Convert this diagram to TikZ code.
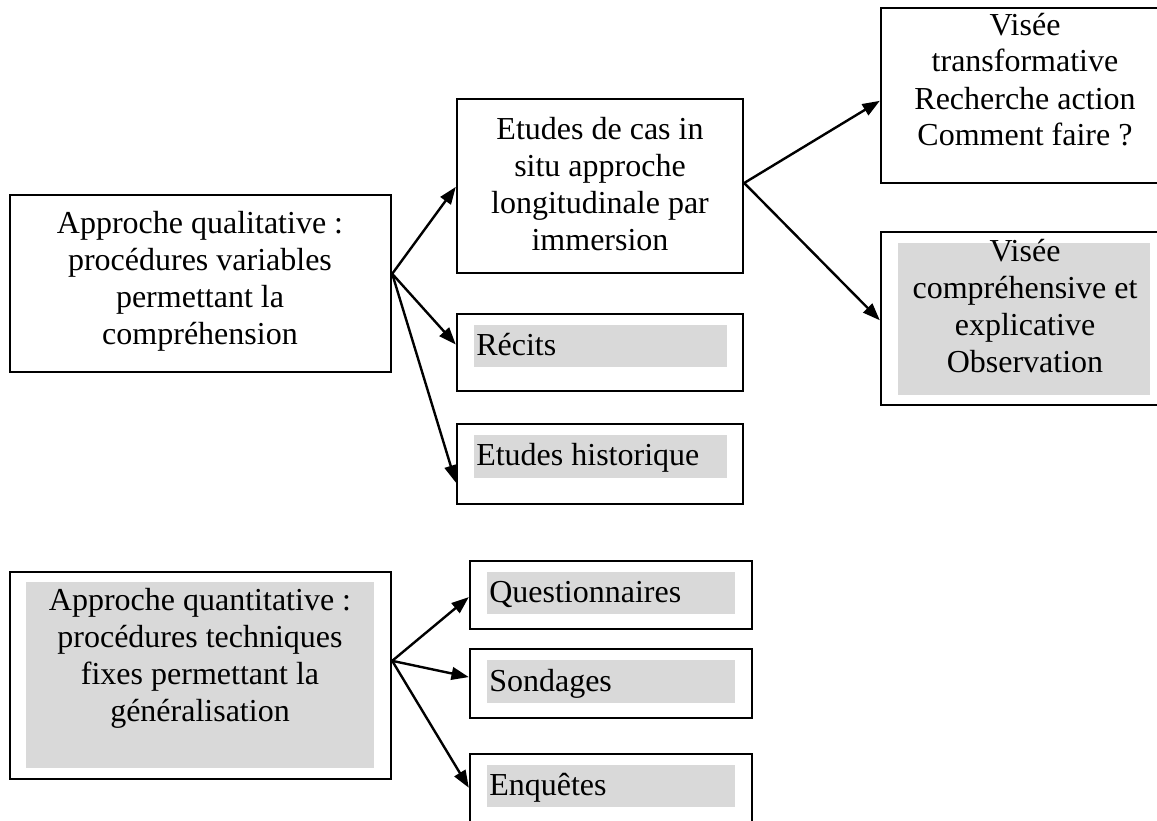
\documentclass[tikz,border=0pt]{standalone}
\usepackage{fontspec}
\setmainfont{Liberation Serif}
\usetikzlibrary{arrows.meta,fit,calc}
\definecolor{shade}{RGB}{217,217,217}
\begin{document}
\begin{tikzpicture}[x=0.75pt,y=-0.75pt,
  box/.style={draw=black, line width=1.8pt, fill=white, inner sep=0pt},
  shadebox/.style={fill=shade, draw=none, inner sep=0pt},
  txt/.style={inner sep=0pt, font=\fontsize{24}{27.75}\selectfont},
  arr/.style={line width=1.8pt, -{Triangle[length=13pt,width=9.5pt]}}]
\useasboundingbox (0,0) rectangle (1157,821);
\clip (0,0) rectangle (1157,821);

% boxes
\node[box, fit={(10,195) (391,372)}] (qual) {};
\node[box, fit={(457,99) (743,273)}] (cas) {};
\node[box, fit={(457,314) (743,391)}] (recits) {};
\node[box, fit={(457,424) (743,504)}] (hist) {};
\node[box, fit={(881,8) (1167,183)}] (trans) {};
\node[box, fit={(881,232) (1167,405)}] (compr) {};
\node[box, fit={(10,572) (391,779)}] (quant) {};
\node[box, fit={(470,561) (752,629)}] (quest) {};
\node[box, fit={(470,649) (752,718)}] (sond) {};
\node[box, fit={(470,754) (752,826)}] (enq) {};

% shaded areas
\node[shadebox, fit={(474,325) (727,367)}] (recitsg) {};
\node[shadebox, fit={(474,435) (727,478)}] (histg) {};
\node[shadebox, fit={(898,243) (1150,395)}] (comprg) {};
\node[shadebox, fit={(26,582) (374,768)}] (quantg) {};
\node[shadebox, fit={(487,572) (735,614)}] (questg) {};
\node[shadebox, fit={(487,660) (735,703)}] (sondg) {};
\node[shadebox, fit={(487,765) (735,807)}] (enqg) {};

% texts
\node[txt, anchor=base] (qualt) at (200,233) {\begin{tabular}[t]{@{}c@{}}Approche qualitative :\\procédures variables\\permettant la\\compréhension\end{tabular}};
\node[txt, anchor=base] (cast) at (600,139) {\begin{tabular}[t]{@{}c@{}}Etudes de cas in\\situ approche\\longitudinale par\\immersion\end{tabular}};
\node[txt, anchor=base] (transt) at (1025,35) {\begin{tabular}[t]{@{}c@{}}Visée\\transformative\\Recherche action\\Comment faire ?\end{tabular}};
\node[txt, anchor=base] (comprt) at (1025,261) {\begin{tabular}[t]{@{}c@{}}Visée\\compréhensive et\\explicative\\Observation\end{tabular}};
\node[txt, anchor=base] (quantt) at (200,610) {\begin{tabular}[t]{@{}c@{}}Approche quantitative :\\procédures techniques\\fixes permettant la\\généralisation\end{tabular}};
\node[txt, anchor=base west] (recitst) at (476,355) {Récits};
\node[txt, anchor=base west] (histt) at (476,465) {Etudes historique};
\node[txt, anchor=base west] (questt) at (489,602) {Questionnaires};
\node[txt, anchor=base west] (sondt) at (489,691) {Sondages};
\node[txt, anchor=base west] (enqt) at (489,795) {Enquêtes};

% connectors
\coordinate (qo) at ($(qual.north east)!0.446!(qual.south east)$);
\draw[arr] (qo) -- ($(cas.north west)!0.505!(cas.south west)$);
\draw[arr] (qo) -- ($(recits.north west)!0.40!(recits.south west)$);
\draw[arr] (qo) -- ($(hist.north west)!0.725!(hist.south west)$);

\coordinate (co) at ($(cas.north east)!0.483!(cas.south east)$);
\draw[arr] (co) -- ($(trans.north west)!0.53!(trans.south west)$);
\draw[arr] (co) -- ($(compr.north west)!0.51!(compr.south west)$);

\coordinate (qto) at ($(quant.north east)!0.43!(quant.south east)$);
\draw[arr] (qto) -- ($(quest.north west)!0.53!(quest.south west)$);
\draw[arr] (qto) -- ($(sond.north west)!0.41!(sond.south west)$);
\draw[arr] (qto) -- ($(enq.north west)!0.47!(enq.south west)$);
\end{tikzpicture}
\end{document}
